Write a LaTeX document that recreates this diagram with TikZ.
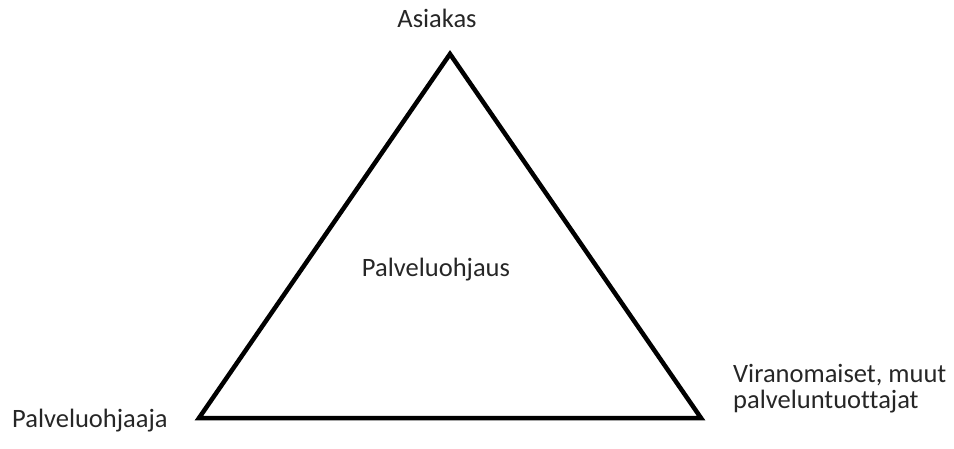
\documentclass[tikz,border=0pt]{standalone}
\usepackage{fontspec}
\setmainfont{Carlito}[Ligatures=NoCommon]
\begin{document}
\begin{tikzpicture}[x=1pt,y=-1pt,
  lbl/.style={inner sep=0pt,font=\fontsize{26.5}{26}\selectfont,text=black!85}]
\useasboundingbox (0,0) rectangle (954,448);
\coordinate (top) at (450,54);
\coordinate (bl) at (199,418);
\coordinate (br) at (701,418);
\draw[line width=4.5pt,line join=miter] (top) -- (bl) -- (br) -- cycle;
\node[lbl,anchor=base] (asiakas) at (437,27.5) {Asiakas};
\node[lbl,anchor=base] (center) at (436,276) {Palveluohjaus};
\node[lbl,anchor=base west] (po) at (12,427) {Palveluohjaaja};
\node[lbl,anchor=base west,align=left] (vir) at (733,408) {Viranomaiset, muut\\palveluntuottajat};
\end{tikzpicture}
\end{document}
